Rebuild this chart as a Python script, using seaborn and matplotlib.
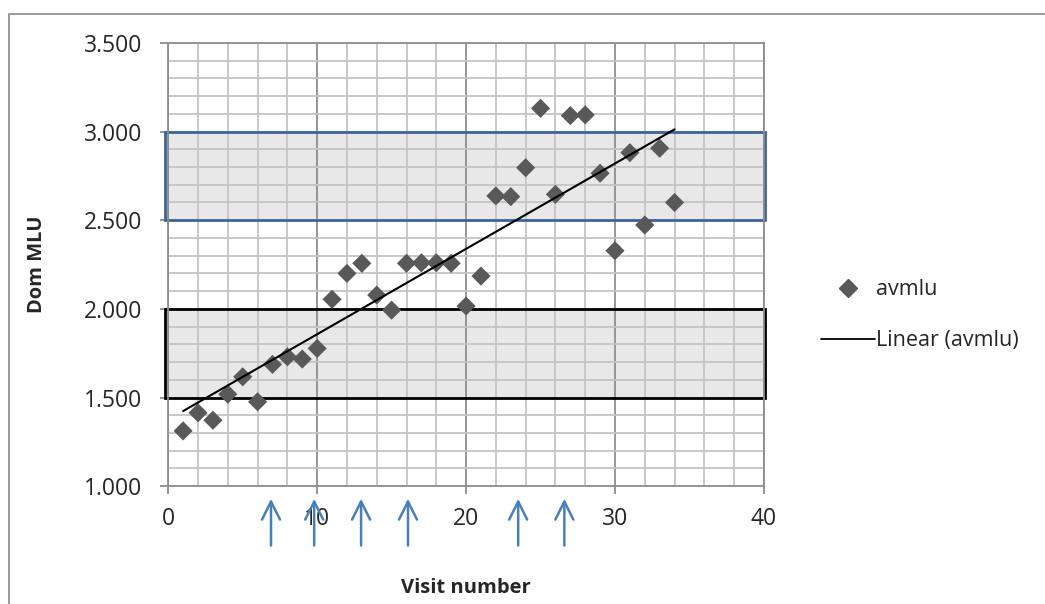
import numpy as np
import pandas as pd
import matplotlib
matplotlib.use('Agg')
import matplotlib.pyplot as plt
import seaborn as sns
from matplotlib.patches import Rectangle
from matplotlib.lines import Line2D
from matplotlib.ticker import MultipleLocator, FuncFormatter

# data
visit = list(range(1, 35))
avmlu = [1.312, 1.414, 1.372, 1.519, 1.617, 1.476, 1.687, 1.730, 1.717, 1.777,
         2.054, 2.200, 2.257, 2.078, 1.993, 2.257, 2.260, 2.260, 2.257, 2.016,
         2.185, 2.637, 2.633, 2.796, 3.131, 2.646, 3.090, 3.094, 2.765, 2.328,
         2.881, 2.473, 2.906, 2.600]
arrow_visits = [6.9, 9.8, 12.95, 16.1, 23.5, 26.6]
band_low = [2.5, 1.5]
band_high = [3.0, 2.0]
band_edge = ['#3C6499', '#000000']

df = pd.DataFrame({'visit': visit, 'avmlu': avmlu})

sns.set_style('white')
plt.rcParams['font.family'] = ['Open Sans', 'DejaVu Sans']

fig = plt.figure(figsize=(10.45, 6.04), dpi=100)
ax = fig.add_axes([0.161, 0.195, 0.570, 0.734])

# grid
ax.set_xlim(0, 40)
ax.set_ylim(1.0, 3.5)
ax.xaxis.set_major_locator(MultipleLocator(10))
ax.xaxis.set_minor_locator(MultipleLocator(2))
ax.yaxis.set_major_locator(MultipleLocator(0.5))
ax.yaxis.set_minor_locator(MultipleLocator(0.1))
ax.yaxis.set_major_formatter(FuncFormatter(lambda v, p: f'{v:.3f}'))
ax.grid(which='minor', color='#C4C4C4', lw=1.3, zorder=1)
ax.grid(which='major', axis='y', color='#C4C4C4', lw=1.3, zorder=1)
ax.grid(which='major', axis='x', color='#8E8E8E', lw=1.3, zorder=1)
ax.set_axisbelow(True)

# shaded bands
for lo, hi, ec in zip(band_low, band_high, band_edge):
    ax.add_patch(Rectangle((-0.2, lo), 40.25, hi - lo, facecolor='#D9D9D9', alpha=0.6,
                           edgecolor='none', zorder=0.5, clip_on=False))
    ax.add_patch(Rectangle((-0.2, lo), 40.25, hi - lo, facecolor='none',
                           edgecolor=ec, lw=2.0, zorder=2, clip_on=False))

sns.scatterplot(data=df, x='visit', y='avmlu', marker='D', s=95, color='#595959',
                edgecolor='none', ax=ax, zorder=3, legend=False)
sns.regplot(data=df, x='visit', y='avmlu', scatter=False, ci=None, truncate=True,
            color='black', line_kws={'lw': 1.5, 'zorder': 4}, ax=ax)

for side in ['left', 'bottom', 'top', 'right']:
    ax.spines[side].set_color('#8E8E8E')
    ax.spines[side].set_linewidth(1.3)
ax.tick_params(which='major', length=6, color='#8E8E8E', width=1.3, labelsize=16.5,
               left=True, bottom=True)
ax.tick_params(axis='y', pad=13)
ax.tick_params(axis='x', pad=9)
ax.tick_params(which='minor', length=0)

ax.set_xlabel('Visit number', fontsize=14.5, fontweight='bold', labelpad=34)
ax.set_ylabel('Dom MLU', fontsize=14.5, fontweight='bold', labelpad=26)

# arrows below the x axis
for xv in arrow_visits:
    ax.annotate('', xy=(xv, -0.022), xytext=(xv, -0.14),
                xycoords=('data', 'axes fraction'), textcoords=('data', 'axes fraction'),
                arrowprops=dict(arrowstyle='->,head_length=1.3,head_width=0.65',
                                color='#4A7EBB', lw=1.8), annotation_clip=False)

handles = [Line2D([], [], marker='D', ls='none', color='#595959', markersize=9),
           Line2D([], [], color='black', lw=1.3)]
fig.legend(handles, ['avmlu', 'Linear (avmlu)'], loc='center left',
           bbox_to_anchor=(0.767, 0.478), frameon=False, fontsize=15.5,
           handlelength=2.5, handletextpad=0.05, labelspacing=1.4)

# chart area border
fig.patches.append(Rectangle((0.009, -0.01), 1.0, 0.987, transform=fig.transFigure,
                             fill=False, edgecolor='#8A8A8A', lw=1.2))

fig.savefig('out.png', dpi=100)
